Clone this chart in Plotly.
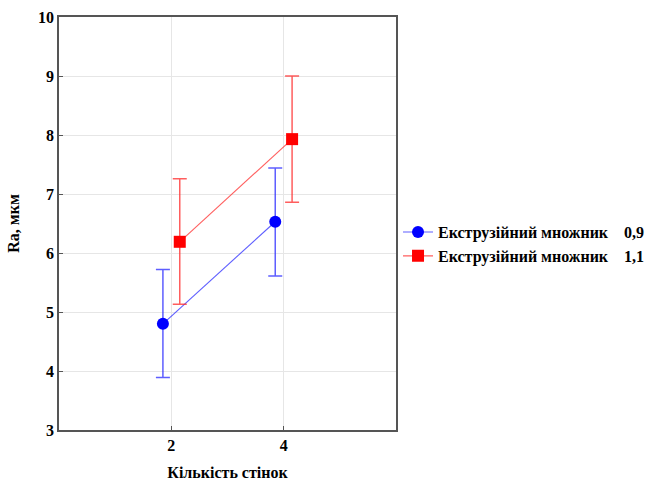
import plotly.graph_objects as go

# Number of walls (x categories)
walls = [2, 4]

# Extrusion multiplier 0.9
mean_09 = [4.80, 6.53]
upper_09 = [5.72, 7.44]
lower_09 = [3.89, 5.61]

# Extrusion multiplier 1.1
mean_11 = [6.19, 7.93]
upper_11 = [7.26, 9.00]
lower_11 = [5.13, 6.86]

series_names = ["Екструзійний множник    0,9", "Екструзійний множник    1,1"]
y_ticks = [3, 4, 5, 6, 7, 8, 9, 10]

FONT = "Liberation Serif, Times New Roman, serif"
DODGE = 0.15

fig = go.Figure()


def add_series(means, upper, lower, shift, color, err_color, symbol, name):
    xs = [w + shift for w in walls]
    fig.add_trace(go.Scatter(
        x=xs, y=means, name=name, mode="lines+markers",
        line=dict(color=err_color, width=1.1),
        marker=dict(color=color, size=12, symbol=symbol),
        error_y=dict(
            type="data", symmetric=False,
            array=[u - m for u, m in zip(upper, means)],
            arrayminus=[m - l for m, l in zip(means, lower)],
            color=err_color, thickness=1.5, width=7,
        ),
    ))


add_series(mean_09, upper_09, lower_09, -DODGE, "#0000ff", "rgba(40,40,255,0.75)", "circle", series_names[0])
add_series(mean_11, upper_11, lower_11, DODGE, "#ff0000", "rgba(255,40,40,0.75)", "square", series_names[1])

axis_common = dict(
    showline=True, linecolor="#555555", linewidth=1.5, mirror=True,
    showgrid=True, gridcolor="#e6e6e6", gridwidth=1,
    ticks="inside", ticklen=4, tickcolor="#555555",
    tickfont=dict(family=FONT, size=16, color="black", weight="bold"),
    zeroline=False, automargin=False,
)

fig.update_layout(
    width=665, height=481,
    margin=dict(l=59, r=269, t=17, b=51),
    paper_bgcolor="white", plot_bgcolor="white",
    font=dict(family=FONT, color="black"),
    xaxis=dict(
        range=[0, 6], tickvals=walls, ticktext=[str(w) for w in walls],
        title=dict(text="Кількість стінок", font=dict(family=FONT, size=16, weight="bold"), standoff=14),
        **axis_common,
    ),
    yaxis=dict(
        range=[3, 10], tickvals=y_ticks,
        title=dict(text="Ra, мкм", font=dict(family=FONT, size=16, weight="bold"), standoff=14),
        **axis_common,
    ),
    showlegend=True,
    legend=dict(
        x=1.006, xanchor="left", y=0.45, yanchor="middle",
        font=dict(family=FONT, size=16, color="black", weight="bold"),
        bgcolor="rgba(0,0,0,0)", borderwidth=0,
        tracegroupgap=0,
    ),
)

fig.write_html("out.html")
